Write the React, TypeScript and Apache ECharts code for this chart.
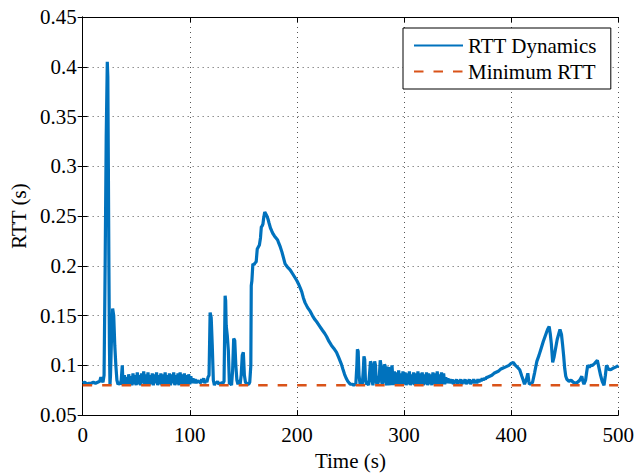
import React, { useEffect, useRef } from "react";
import * as echarts from "echarts";

const timeTicks = [0, 100, 200, 300, 400, 500];
const rttTicks = [0.05, 0.1, 0.15, 0.2, 0.25, 0.3, 0.35, 0.4, 0.45];
const minimumRtt = 0.08;

const startupSegment: [number, number][] = [
  [0, 0.082], [2, 0.083], [4, 0.081], [6, 0.082], [8, 0.082], [10, 0.083], [12, 0.082], [14, 0.083],
  [16, 0.084], [17, 0.088], [18, 0.085], [19, 0.083], [20, 0.09], [21, 0.2], [22, 0.33], [23, 0.405],
  [23.5, 0.39], [24, 0.3], [24.5, 0.2], [25, 0.12], [25.5, 0.08], [26, 0.09], [27, 0.13], [28, 0.157],
  [29, 0.15], [30, 0.12], [31, 0.1], [32, 0.085], [33, 0.081], [34, 0.082], [35, 0.081], [36, 0.085],
  [37, 0.1], [37.6, 0.083],
];

const firstPlateau: [number, number][] = [
  [38, 0.080], [39, 0.090], [40, 0.081], [41, 0.088], [42, 0.080], [43, 0.091], [44, 0.081], [45, 0.089],
  [46, 0.080], [47, 0.092], [48, 0.081], [49, 0.090], [50, 0.080], [51, 0.093], [52, 0.081], [53, 0.090],
  [54, 0.080], [55, 0.092], [56, 0.082], [57, 0.094], [58, 0.080], [59, 0.091], [60, 0.081], [61, 0.093],
  [62, 0.080], [63, 0.090], [64, 0.081], [65, 0.092], [66, 0.080], [67, 0.091], [68, 0.082], [69, 0.093],
  [70, 0.080], [71, 0.090], [72, 0.081], [73, 0.092], [74, 0.080], [75, 0.091], [76, 0.081], [77, 0.093],
  [78, 0.080], [79, 0.090], [80, 0.081], [81, 0.092], [82, 0.080], [83, 0.091], [84, 0.082], [85, 0.093],
  [86, 0.080], [87, 0.090], [88, 0.081], [89, 0.092], [90, 0.080], [91, 0.093], [92, 0.081], [93, 0.091],
  [94, 0.080], [95, 0.092], [96, 0.081], [97, 0.090], [98, 0.080], [99, 0.091], [100, 0.081], [101, 0.089],
  [102, 0.082], [103, 0.087], [104, 0.082], [105, 0.086], [106, 0.082], [107, 0.085], [108, 0.083], [109, 0.084],
  [110, 0.082], [111, 0.086], [112, 0.083], [113, 0.087], [114, 0.082], [115, 0.085], [116, 0.083], [117, 0.088],
];

const burstSegment: [number, number][] = [
  [118, 0.09], [119, 0.153], [120, 0.148], [121, 0.12], [122, 0.085], [123, 0.08], [124, 0.083], [125, 0.082],
  [126, 0.084], [127, 0.081], [128, 0.082], [129, 0.081], [130, 0.083], [131, 0.082], [132, 0.084], [133, 0.17],
  [133.5, 0.165], [134, 0.14], [135, 0.13], [136, 0.115], [137, 0.081], [138, 0.082], [139, 0.08], [140, 0.095],
  [141, 0.127], [142, 0.125], [143, 0.1], [144, 0.085], [145, 0.081], [146, 0.085], [147, 0.081], [148, 0.09],
  [149, 0.11], [150, 0.113], [151, 0.09], [152, 0.083], [153, 0.082], [154, 0.081], [155, 0.081], [156, 0.083],
];

const humpSegment: [number, number][] = [
  [157, 0.1], [157.4, 0.18], [158, 0.185], [158.9, 0.202], [160, 0.201], [161, 0.203], [162, 0.204], [163, 0.217],
  [164, 0.219], [165, 0.221], [166, 0.228], [166.8, 0.239], [167.5, 0.24], [168.3, 0.242], [169, 0.248], [170, 0.254],
  [171, 0.252], [172, 0.25], [173, 0.247], [174, 0.243], [175.3, 0.238], [176.5, 0.235], [177.8, 0.232], [179, 0.23],
  [180.5, 0.228], [182, 0.226], [183, 0.223], [184.5, 0.219], [186, 0.214], [187.5, 0.208], [189, 0.202], [191, 0.199],
  [193.7, 0.196], [196, 0.192], [198.3, 0.188], [200, 0.185], [201.4, 0.182], [203, 0.178], [204.5, 0.174], [206, 0.168],
  [207.6, 0.163], [210, 0.158], [212, 0.155], [214.5, 0.15], [216.8, 0.146], [219, 0.143], [221.5, 0.139], [224, 0.135],
  [226, 0.132], [227.7, 0.129], [230, 0.124], [232.3, 0.12], [234.5, 0.117], [237, 0.113], [239, 0.108], [241.6, 0.101],
  [243, 0.096], [244.5, 0.091], [246, 0.087], [247.5, 0.084], [249, 0.082], [250, 0.081], [252, 0.081], [253, 0.08],
  [254, 0.081], [255, 0.081],
];

const recoverySpikes: [number, number][] = [
  [256, 0.1], [256.5, 0.116], [257.2, 0.114], [258, 0.09], [259, 0.081], [260, 0.082], [261, 0.08], [262, 0.095],
  [262.6, 0.109], [263.3, 0.106], [264, 0.085], [265, 0.081], [266, 0.082], [267, 0.08], [268, 0.094], [268.7, 0.104],
  [269.4, 0.102], [270, 0.085], [271, 0.08], [272, 0.092], [272.6, 0.104], [273.4, 0.1], [274, 0.084], [275, 0.08],
  [276, 0.083], [277, 0.09], [277.8, 0.105], [278.5, 0.1], [279.2, 0.083], [280, 0.08], [281, 0.094], [281.8, 0.101],
  [282.5, 0.099], [283, 0.084], [284, 0.08], [285, 0.097], [285.7, 0.098], [286.5, 0.085], [287, 0.08], [288, 0.093],
  [288.8, 0.1], [289.5, 0.088], [290, 0.08],
];

const secondPlateau: [number, number][] = [
  [291, 0.094], [292, 0.081], [293, 0.093], [294, 0.08], [295, 0.095], [296, 0.081], [297, 0.092], [298, 0.08],
  [299, 0.094], [300, 0.081], [301, 0.093], [302, 0.08], [303, 0.092], [304, 0.081], [305, 0.094], [306, 0.08],
  [307, 0.091], [308, 0.081], [309, 0.093], [310, 0.08], [311, 0.092], [312, 0.081], [313, 0.094], [314, 0.08],
  [315, 0.092], [316, 0.081], [317, 0.093], [318, 0.08], [319, 0.091], [320, 0.081], [321, 0.093], [322, 0.08],
  [323, 0.092], [324, 0.081], [325, 0.091], [326, 0.08], [327, 0.093], [328, 0.081], [329, 0.092], [330, 0.08],
  [331, 0.094], [332, 0.081], [333, 0.091], [334, 0.08], [335, 0.093], [336, 0.081], [337, 0.092], [338, 0.081],
  [339, 0.088], [340, 0.082], [341, 0.087], [342, 0.082], [343, 0.086], [344, 0.082], [345, 0.086], [346, 0.081],
  [347, 0.085], [348, 0.082], [349, 0.086], [350, 0.081], [351, 0.085], [352, 0.082], [353, 0.086], [354, 0.081],
  [355, 0.085], [356, 0.082], [357, 0.086], [358, 0.081], [359, 0.085], [360, 0.082], [361, 0.086], [362, 0.081],
  [363, 0.085], [364, 0.082], [365, 0.086], [366, 0.082], [367, 0.085], [368, 0.082], [369, 0.086], [370, 0.083],
  [371, 0.086], [372, 0.084], [373, 0.087], [374, 0.085], [375, 0.087], [376, 0.086], [377, 0.088],
];

const tailSegment: [number, number][] = [
  [378, 0.088], [380, 0.089], [382, 0.09], [384, 0.092], [386, 0.093], [388, 0.094], [390, 0.096], [392, 0.097],
  [394, 0.098], [396, 0.099], [398, 0.1], [400, 0.102], [402, 0.103], [404, 0.1], [406, 0.098], [408, 0.0956],
  [410, 0.089], [411, 0.086], [412.5, 0.081], [414, 0.085], [415.6, 0.092], [416.5, 0.084], [417, 0.081], [419, 0.082],
  [420, 0.083], [422, 0.093], [424, 0.104], [426, 0.11], [428, 0.117], [430, 0.124], [432, 0.13], [434, 0.136],
  [435.5, 0.139], [436.5, 0.132], [437.5, 0.122], [438.8, 0.103], [440, 0.108], [441.5, 0.117], [443, 0.126], [445.6, 0.136],
  [447, 0.131], [448, 0.121], [449, 0.11], [450, 0.097], [451, 0.089], [452, 0.086], [454, 0.084], [456, 0.085],
  [458, 0.083], [460, 0.082], [462, 0.083], [464, 0.085], [466, 0.089], [467, 0.084], [468, 0.081], [469.5, 0.085],
  [470.5, 0.093], [471.5, 0.1], [473, 0.098], [474.5, 0.1], [476, 0.1], [478, 0.102], [480.5, 0.105], [481.5, 0.1],
  [482.5, 0.095], [483.5, 0.09], [485, 0.084], [486.7, 0.08], [488, 0.09], [489, 0.1], [491, 0.096], [493, 0.0957],
  [495, 0.097], [497, 0.098], [499, 0.099], [500, 0.1],
];

const rttDynamics = [
  ...startupSegment,
  ...firstPlateau,
  ...burstSegment,
  ...humpSegment,
  ...recoverySpikes,
  ...secondPlateau,
  ...tailSegment,
];

const minimumLine: [number, number][] = [
  [timeTicks[0], minimumRtt],
  [timeTicks[timeTicks.length - 1], minimumRtt],
];

const serif = "Liberation Serif";
const fontSize = 21;

export default function App() {
  const ref = useRef<HTMLDivElement>(null);
  useEffect(() => {
    if (!ref.current) return;
    const chart = echarts.init(ref.current, null, { renderer: "svg" });
    const xMin = timeTicks[0];
    const xMax = timeTicks[timeTicks.length - 1];
    const xStep = timeTicks[1] - timeTicks[0];
    const yMin = rttTicks[0];
    const yMax = rttTicks[rttTicks.length - 1];
    const yStep = 0.05;
    const frameAxis = {
      axisLine: { show: true, lineStyle: { color: "#000", width: 1 } },
      axisTick: { show: true, inside: true, length: 5, lineStyle: { color: "#000" } },
    };
    chart.setOption({
      animation: false,
      backgroundColor: "#fff",
      grid: { left: 82, top: 17, right: 16, bottom: 59, containLabel: false },
      legend: {
        orient: "vertical",
        left: 403,
        top: 28,
        padding: [7, 14, 7, 10],
        itemWidth: 49,
        itemHeight: 21,
        itemGap: 5,
        backgroundColor: "#fff",
        borderColor: "#000",
        borderWidth: 1,
        borderRadius: 0,
        itemStyle: { opacity: 0 },
        textStyle: { fontFamily: serif, fontSize, color: "#000", lineHeight: 21 },
        data: ["RTT Dynamics", "Minimum RTT"],
      },
      xAxis: [
        {
          type: "value",
          min: xMin,
          max: xMax,
          interval: xStep,
          position: "bottom",
          name: "Time (s)",
          nameLocation: "middle",
          nameGap: 33,
          nameTextStyle: { fontFamily: serif, fontSize, color: "#000" },
          ...frameAxis,
          axisLabel: { fontFamily: serif, fontSize, color: "#000", margin: 9 },
          splitLine: { show: true, lineStyle: { color: "#555", type: [1, 4], width: 1 } },
        },
        {
          type: "value",
          min: xMin,
          max: xMax,
          interval: xStep,
          position: "top",
          ...frameAxis,
          axisLabel: { show: false },
          splitLine: { show: false },
        },
      ],
      yAxis: [
        {
          type: "value",
          min: yMin,
          max: yMax,
          interval: yStep,
          position: "left",
          name: "RTT (s)",
          nameLocation: "middle",
          nameGap: 52,
          nameTextStyle: { fontFamily: serif, fontSize, color: "#000" },
          ...frameAxis,
          axisLabel: {
            fontFamily: serif,
            fontSize,
            color: "#000",
            margin: 6,
            formatter: (v: number) => String(Math.round(v * 100) / 100),
          },
          splitLine: { show: true, lineStyle: { color: "#555", type: [1, 4], width: 1 } },
        },
        {
          type: "value",
          min: yMin,
          max: yMax,
          interval: yStep,
          position: "right",
          ...frameAxis,
          axisLabel: { show: false },
          splitLine: { show: false },
        },
      ],
      series: [
        {
          name: "RTT Dynamics",
          type: "line",
          xAxisIndex: 0,
          yAxisIndex: 0,
          data: rttDynamics,
          symbol: "none",
          lineStyle: { color: "#0072BD", width: 3.2 },
          itemStyle: { color: "#0072BD", opacity: 0 },
        },
        {
          name: "Minimum RTT",
          type: "line",
          xAxisIndex: 0,
          yAxisIndex: 0,
          data: minimumLine,
          symbol: "none",
          lineStyle: { color: "#D95319", width: 2.5, type: [9.5, 10] },
          itemStyle: { color: "#D95319", opacity: 0 },
        },
      ],
    });
    return () => chart.dispose();
  }, []);
  return (
    <div
      ref={ref}
      style={{ position: "absolute", left: 0, top: 0, width: 637, height: 476, background: "#fff" }}
    />
  );
}
